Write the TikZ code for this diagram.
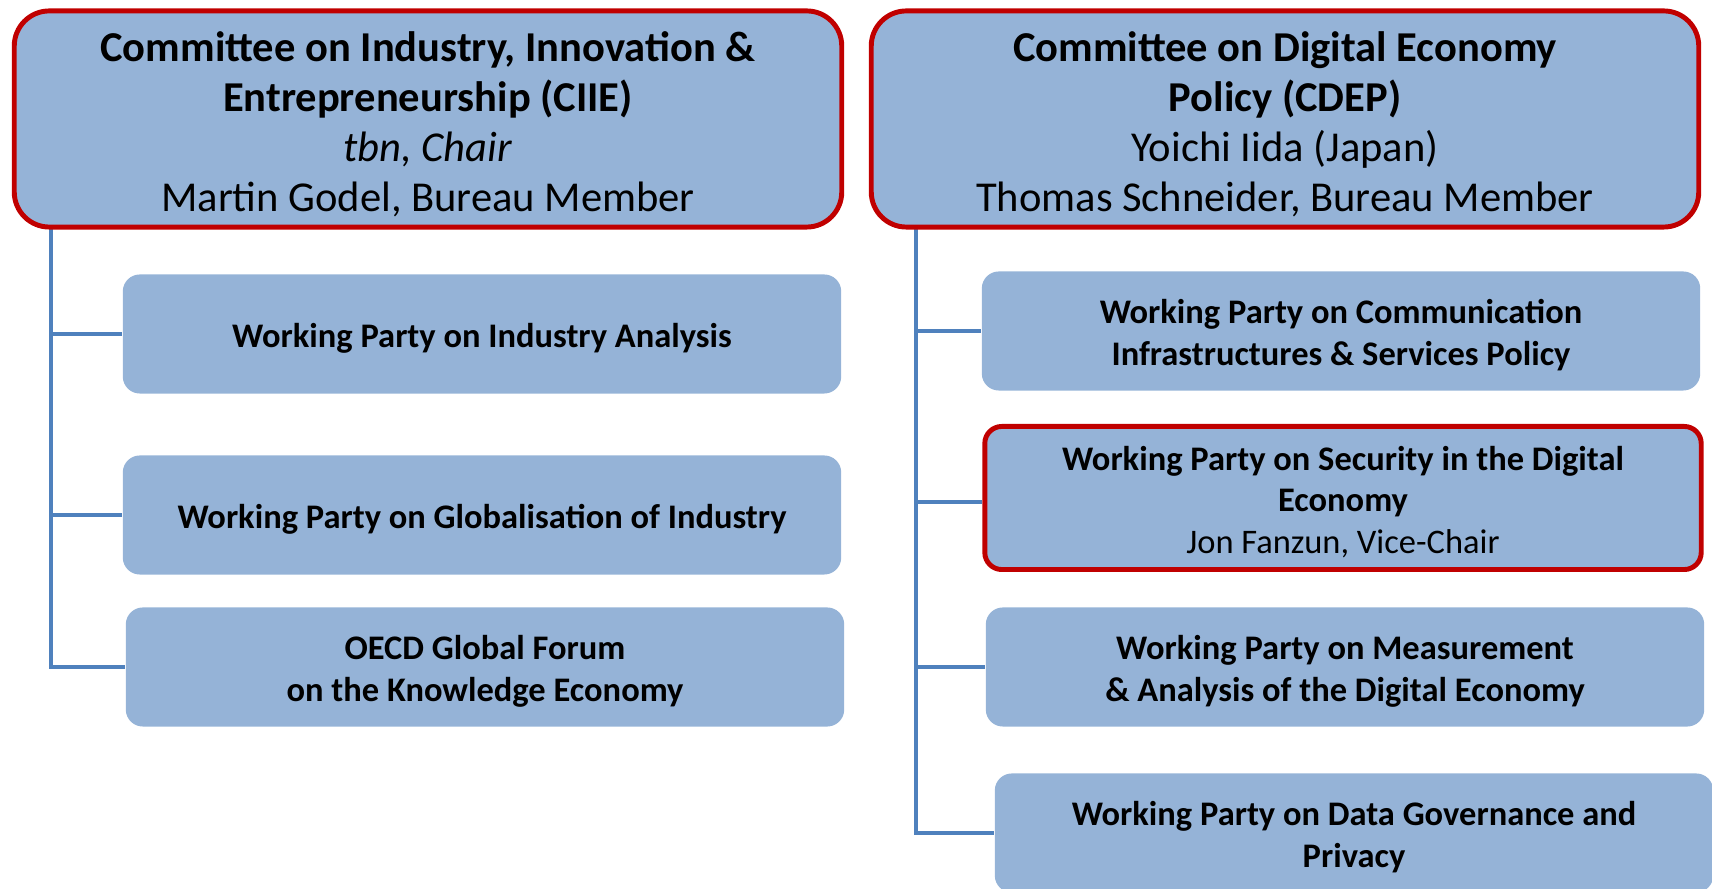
\documentclass[tikz,border=0pt]{standalone}
\usepackage{fontspec}
\setsansfont{Carlito}
\usetikzlibrary{backgrounds}
\definecolor{boxblue}{HTML}{95B3D7}
\definecolor{chairred}{HTML}{C00000}
\definecolor{linkblue}{HTML}{4F81BD}
\newcommand{\topstrut}[1]{\rule{0pt}{#1}}

\begin{document}
\begin{tikzpicture}[x=0.01cm,y=-0.01cm]
    \sffamily

    \tikzset{ST/.style={draw=linkblue,line width=1.1pt}}
    \tikzset{CB/.style={shape=rectangle,rounded corners=0.35cm,fill=boxblue,draw=chairred,line width=1.4pt,align=center,inner sep=0pt,minimum width=8.27cm,minimum height=2.16cm,font=\fontsize{12.1}{14.2}\selectfont}}
    \tikzset{WP/.style={shape=rectangle,rounded corners=0.17cm,fill=boxblue,align=center,inner sep=0pt,minimum width=7.18cm,minimum height=1.19cm,font=\fontsize{9.8}{11.8}\selectfont\bfseries}}
    \tikzset{RB/.style={draw=chairred,line width=1.4pt}}

    \useasboundingbox (0,0) rectangle (1712,889);

    % CIIE side
    \node (ciie) [CB] at (428,119) {\topstrut{11.5pt}\textbf{Committee on Industry, Innovation \&}\\\textbf{Entrepreneurship (CIIE)}\\\textit{tbn, Chair}\\Martin Godel, Bureau Member};
    	\node (wpia) [WP] at (482,334) {\topstrut{9.2pt}Working Party on Industry Analysis};
    	\node (wpgi) [WP] at (482,515) {\topstrut{9.2pt}Working Party on Globalisation of Industry};
    	\node (gfke) [WP] at (485,667) {\topstrut{9.3pt}OECD Global Forum\\on the Knowledge Economy};

    % CDEP side
    \node (cdep) [CB] at (1285,119) {\topstrut{11.5pt}\textbf{Committee on Digital Economy}\\\textbf{Policy (CDEP)}\\Yoichi Iida (Japan)\\Thomas Schneider, Bureau Member};
    	\node (wpcisp) [WP] at (1341,331) {\topstrut{9.2pt}Working Party on Communication\\Infrastructures \& Services Policy};
    	\node (wpsde) [WP,RB,minimum width=7.16cm,minimum height=1.43cm] at (1343,498) {\topstrut{9.2pt}Working Party on Security in the Digital\\Economy\\\mdseries Jon Fanzun, Vice-Chair};
    	\node (wpmade) [WP] at (1345,667) {\topstrut{9.3pt}Working Party on Measurement\\\& Analysis of the Digital Economy};
    	\node (wpdgp) [WP] at (1354,833) {\topstrut{9.3pt}Working Party on Data Governance and\\Privacy};

    \coordinate (tl) at (51,229);
    \coordinate (tr) at (916,229);

    \begin{pgfonlayer}{background}
    	\path[ST] (tl) |- (wpia);
    	\path[ST] (tl) |- (wpgi);
    	\path[ST] (tl) |- (gfke);
    	\path[ST] (tr) |- (wpcisp);
    	\path[ST] (tr) |- ([yshift=-1.2pt]wpsde.west);
    	\path[ST] (tr) |- (wpmade);
    	\path[ST] (tr) |- (wpdgp);
    \end{pgfonlayer}
\end{tikzpicture}
\end{document}
